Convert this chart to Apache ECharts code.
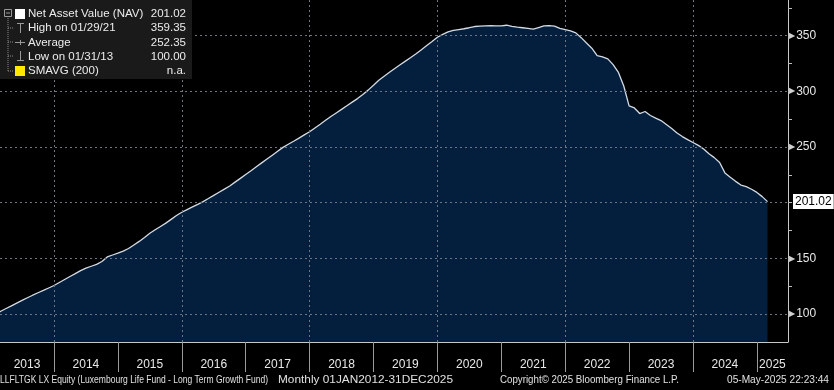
<!DOCTYPE html>
<html>
<head>
<meta charset="utf-8">
<script src="https://cdn.jsdelivr.net/npm/echarts@6/dist/echarts.min.js"></script>
<style>
html,body{margin:0;padding:0;background:#000;}
#chart{width:834px;height:390px;}
</style>
</head>
<body>
<div id="chart"></div>
<script>
// ---- data ----
const startYear = 2013;           // first monthly observation: Jan 2013 (month end)
const navValues = [
  100.0,102.6,105.1,107.5,109.9,112.3,114.7,117.0,119.2,121.3,123.5,125.7,   // 2013
  128.4,131.1,133.8,136.4,139.1,141.3,143.0,144.7,147.3,151.4,153.1,154.8,   // 2014
  156.6,158.9,162.1,165.3,168.9,172.6,175.7,178.7,181.7,185.1,188.5,191.5,   // 2015
  193.9,196.3,198.6,201.0,203.8,206.6,209.4,212.2,215.0,218.5,221.9,225.4,   // 2016
  228.8,232.3,235.8,239.2,242.7,246.2,249.7,252.5,255.2,258.0,260.9,263.7,   // 2017
  267.1,270.5,274.0,277.4,280.6,283.8,287.1,290.3,293.5,297.2,301.1,305.5,   // 2018
  310.0,313.6,317.1,320.5,323.8,327.1,330.4,333.8,337.4,341.1,344.8,348.6,   // 2019
  351.1,353.4,354.8,355.5,356.2,357.1,358.2,358.6,358.8,359.0,358.7,358.7,   // 2020
  359.35,358.3,357.6,357.1,356.5,355.8,357.3,358.8,359.0,358.6,356.5,355.4,  // 2021
  354.2,352.5,348.2,343.4,338.7,332.0,331.0,329.2,324.0,317.0,304.8,286.9,   // 2022
  285.1,280.1,281.9,278.3,276.0,273.8,270.3,266.7,262.6,259.4,256.7,254.1,   // 2023
  251.5,248.3,243.9,240.5,236.2,226.8,222.9,219.2,215.9,214.5,212.1,209.3,   // 2024
  205.5,201.02                                                              // 2025
];
const yearLabels = ['2013','2014','2015','2016','2017','2018','2019','2020','2021','2022','2023','2024','2025'];
const yearBoundaries = [2014,2015,2016,2017,2018,2019,2020,2021,2022,2023,2024,2025];
const gridYears = [2014,2016,2018,2020,2022,2024];
const yTickValues = [100,125,150,175,200,225,250,275,300,325,350,375];
const yGridValues = [100,150,200,250,300,350];
const yLabelValues = [100,150,250,300,350];   // 200 is covered by the last-value tag
const legendNames = ['Net Asset Value (NAV)','High on 01/29/21','Average','Low on 01/31/13','SMAVG (200)'];
const legendValues = ['201.02','359.35','252.35','100.00','n.a.'];
const footerLeft = 'LLFLTGK LX Equity (Luxembourg Life Fund - Long Term Growth Fund)';
const footerMid = 'Monthly 01JAN2012-31DEC2025';
const footerCopy = 'Copyright\u00A9 2025 Bloomberg Finance L.P.';
const footerDate = '05-May-2025 22:23:44';

// ---- build ----
const xMin = 2013.155, xMax = 2025.487;
const seriesData = navValues.map((v, i) => [startYear + (i + 1) / 12, v]);
const labelPos = yearLabels.map(y => {
  const a = Math.max(+y, xMin), b = Math.min(+y + 1, xMax);
  return (a + b) / 2;
});
const lastVal = navValues[navValues.length - 1];
const FONT = 'Liberation Sans, Arial, sans-serif';

const ctx = document.createElement('canvas').getContext('2d');
function fitScale(text, font, target) {
  ctx.font = font;
  const w = ctx.measureText(text).width;
  return w > 0 ? target / w : 1;
}

const chart = echarts.init(document.getElementById('chart'), null, {renderer: 'canvas'});

const LEG_FONT = '11.5px ' + FONT;
const g = [];
g.push({type:'rect', shape:{x:0,y:0,width:192,height:79}, style:{fill:'#1a1a1a'}, z:100});
// tree connectors
g.push({type:'line', shape:{x1:8,y1:18,x2:8,y2:71}, style:{stroke:'#8a8a8a', lineWidth:1, lineDash:[1,1]}, z:101});
[28,42,56,71].forEach(y => g.push({type:'line', shape:{x1:8,y1:y,x2:13,y2:y}, style:{stroke:'#8a8a8a', lineWidth:1, lineDash:[1,1]}, z:101}));
g.push({type:'rect', shape:{x:4.5,y:9.5,width:7,height:7}, style:{fill:'#1a1a1a', stroke:'#9a9a9a', lineWidth:1}, z:102});
g.push({type:'line', shape:{x1:6,y1:13,x2:10,y2:13}, style:{stroke:'#9a9a9a', lineWidth:1}, z:103});
// row icons
g.push({type:'rect', shape:{x:15,y:9,width:10,height:10}, style:{fill:'#ffffff'}, z:102});
g.push({type:'line', shape:{x1:17,y1:23.5,x2:24,y2:23.5}, style:{stroke:'#9a9a9a', lineWidth:1}, z:102});
g.push({type:'line', shape:{x1:20.5,y1:23.5,x2:20.5,y2:33}, style:{stroke:'#9a9a9a', lineWidth:1}, z:102});
g.push({type:'line', shape:{x1:15,y1:42.5,x2:25,y2:42.5}, style:{stroke:'#9a9a9a', lineWidth:1}, z:102});
g.push({type:'line', shape:{x1:20.5,y1:40,x2:20.5,y2:45}, style:{stroke:'#9a9a9a', lineWidth:1}, z:102});
g.push({type:'line', shape:{x1:20.5,y1:51,x2:20.5,y2:60.5}, style:{stroke:'#9a9a9a', lineWidth:1}, z:102});
g.push({type:'line', shape:{x1:17,y1:60.5,x2:24,y2:60.5}, style:{stroke:'#9a9a9a', lineWidth:1}, z:102});
g.push({type:'rect', shape:{x:15,y:66,width:10,height:10}, style:{fill:'#ffe800'}, z:102});
const rowY = [14,28,42.5,56.5,71];
legendNames.forEach((n, i) => {
  g.push({type:'text', x:28, y:rowY[i], style:{text:n, fill:'#ececec', font:LEG_FONT, textVerticalAlign:'middle'}, z:103});
  g.push({type:'text', x:186, y:rowY[i], style:{text:legendValues[i], fill:'#ececec', font:LEG_FONT, textAlign:'right', textVerticalAlign:'middle'}, z:103});
});
// footer (each piece fitted to the width it occupies in the original)
const FOOT_FONT = '10.5px ' + FONT;
[[footerLeft, 0, 268], [footerMid, 278, 175], [footerCopy, 500, 179], [footerDate, 727, 102]].forEach(([t, x, w]) => {
  g.push({type:'text', x:x, y:380, scaleX: fitScale(t, FOOT_FONT, w),
    style:{text:t, fill:'#e0e0e0', font:FOOT_FONT, textVerticalAlign:'middle'}, z:103});
});

const option = {
  backgroundColor: '#000000',
  animation: false,
  grid: {left: 0, right: 46, top: 0, bottom: 48, containLabel: false},
  xAxis: [{
    type: 'value', min: xMin, max: xMax, position: 'bottom', z: 5,
    axisLine: {show: true, onZero: false, lineStyle: {color: '#c8c8c8', width: 1}},
    axisTick: {show: true, customValues: yearBoundaries, length: 30, lineStyle: {color: '#9a9a9a'}},
    axisLabel: {customValues: labelPos, margin: 17, color: '#e8e8e8', fontSize: 12, fontFamily: FONT,
      formatter: v => String(Math.floor(v + 1e-9))},
    splitLine: {show: false}
  }, {
    type: 'value', min: xMin, max: xMax, position: 'bottom', z: 10, gridIndex: 0,
    axisLine: {show: false}, axisLabel: {show: false},
    axisTick: {show: false, customValues: gridYears},
    splitLine: {show: true, lineStyle: {color: '#6e7480', type: [2, 3], width: 1}}
  }],
  yAxis: [{
    type: 'value', min: 75, max: 382, position: 'right', z: 5,
    axisLine: {show: true, lineStyle: {color: '#c8c8c8', width: 1}},
    axisTick: {show: true, customValues: yTickValues, length: 4, lineStyle: {color: '#bdbdbd'}},
    axisLabel: {customValues: yLabelValues, margin: 1, align: 'left',
      formatter: v => '{t|\u25B6}{v|' + v + '}',
      rich: {t: {fontSize: 8, color: '#d0d0d0', fontFamily: 'DejaVu Sans', padding: [0, 1, 0, 0]},
             v: {fontSize: 12, color: '#e8e8e8', fontFamily: FONT}}},
    splitLine: {show: false}
  }, {
    type: 'value', min: 75, max: 382, position: 'right', z: 10,
    axisLine: {show: false}, axisLabel: {show: false},
    axisTick: {show: false, customValues: yGridValues},
    splitLine: {show: true, lineStyle: {color: '#6e7480', type: [2, 3], width: 1}}
  }],
  series: [{
    type: 'line', xAxisIndex: 0, yAxisIndex: 0,
    data: seriesData, showSymbol: false, smooth: false,
    lineStyle: {color: '#d4dbe4', width: 1.3},
    areaStyle: {color: '#031f3d', opacity: 1, origin: 'start'},
    z: 2,
    markLine: {
      silent: true, symbol: 'none', animation: false, z: 20,
      lineStyle: {color: 'transparent', width: 0},
      label: {show: true, position: 'end', distance: 5, formatter: lastVal.toFixed(2),
        backgroundColor: '#ffffff', color: '#000000', fontSize: 12, fontFamily: FONT,
        padding: [2, 2, 1, 2]},
      data: [{yAxis: lastVal}]
    }
  }],
  graphic: g
};
chart.setOption(option);
</script>
</body>
</html>
